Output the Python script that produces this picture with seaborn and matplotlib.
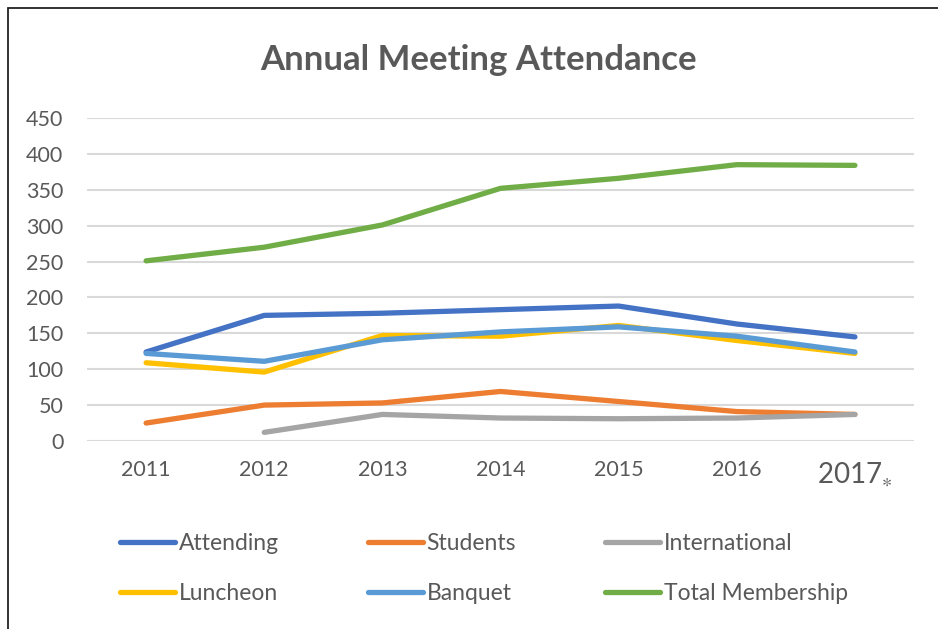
import pandas as pd
import seaborn as sns
import matplotlib.pyplot as plt
from matplotlib.patches import Rectangle

years = ["2011", "2012", "2013", "2014", "2015", "2016", "2017$_{\\ast}$"]
attending = [124, 175, 178, 183, 188, 163, 145]
students = [25, 50, 53, 69, 55, 41, 37]
international = [None, 12, 37, 32, 31, 32, 37]
luncheon = [109, 96, 147, 146, 161, 140, 122]
banquet = [122, 111, 141, 152, 159, 146, 124]
total_membership = [251, 270, 301, 352, 366, 385, 384]

series = ["Attending", "Students", "International", "Luncheon", "Banquet", "Total Membership"]
colors = ["#4472C4", "#ED7D31", "#A5A5A5", "#FFC000", "#5B9BD5", "#70AD47"]

df = pd.DataFrame({"year": years, "Attending": attending, "Students": students,
                   "International": international, "Luncheon": luncheon,
                   "Banquet": banquet, "Total Membership": total_membership})
long = df.melt(id_vars="year", var_name="series", value_name="count").dropna()

sns.set_style("white")
plt.rcParams["font.family"] = ["Lato", "DejaVu Sans"]
plt.rcParams["mathtext.default"] = "regular"
txt = "#595959"

fig = plt.figure(figsize=(9.38, 6.29), dpi=100)
ax = fig.add_axes([0.0928, 0.2989, 0.8816, 0.5135])

sns.lineplot(data=long, x="year", y="count", hue="series", hue_order=series,
             palette=colors, linewidth=3.8, sort=False, ax=ax,
             solid_capstyle="round", solid_joinstyle="round")

ax.set_xlim(-0.5, 6.5)
ax.set_ylim(0, 450)
ax.set_yticks(range(0, 451, 50))
ax.yaxis.grid(True, color="#D9D9D9", linewidth=1.5)
ax.set_axisbelow(True)
for s in ax.spines.values():
    s.set_visible(False)
ax.tick_params(axis="both", length=0, labelsize=15.5, labelcolor=txt)
ax.tick_params(axis="y", pad=17)
ax.tick_params(axis="x", pad=14)
ax.set_xlabel("")
ax.set_ylabel("")
labels = ax.get_xticklabels()
labels[-1].set_fontsize(20)

fig.text(0.51, 0.905, "Annual Meeting Attendance", ha="center", va="center",
         fontsize=25, fontweight="bold", color=txt)

ax.get_legend().remove()
handles, lbls = ax.get_legend_handles_labels()
# matplotlib fills legend columns first, reorder so rows read left to right
order = [0, 3, 1, 4, 2, 5]
leg = fig.legend([handles[i] for i in order], [lbls[i] for i in order],
                 ncol=3, loc="upper left", bbox_to_anchor=(0.128, 0.152),
                 frameon=False, fontsize=16.5, borderpad=0, borderaxespad=0,
                 handlelength=2.4, handletextpad=0.15, columnspacing=3.9,
                 labelspacing=1.25, labelcolor=txt)
for h in leg.legend_handles:
    h.set_linewidth(3.8)
    h.set_solid_capstyle("round")

fig.patches.append(Rectangle((0.0085, -0.1), 1.2, 1.087, transform=fig.transFigure,
                             fill=False, edgecolor="#222222", linewidth=1.3))

fig.savefig("out.png", dpi=100)
